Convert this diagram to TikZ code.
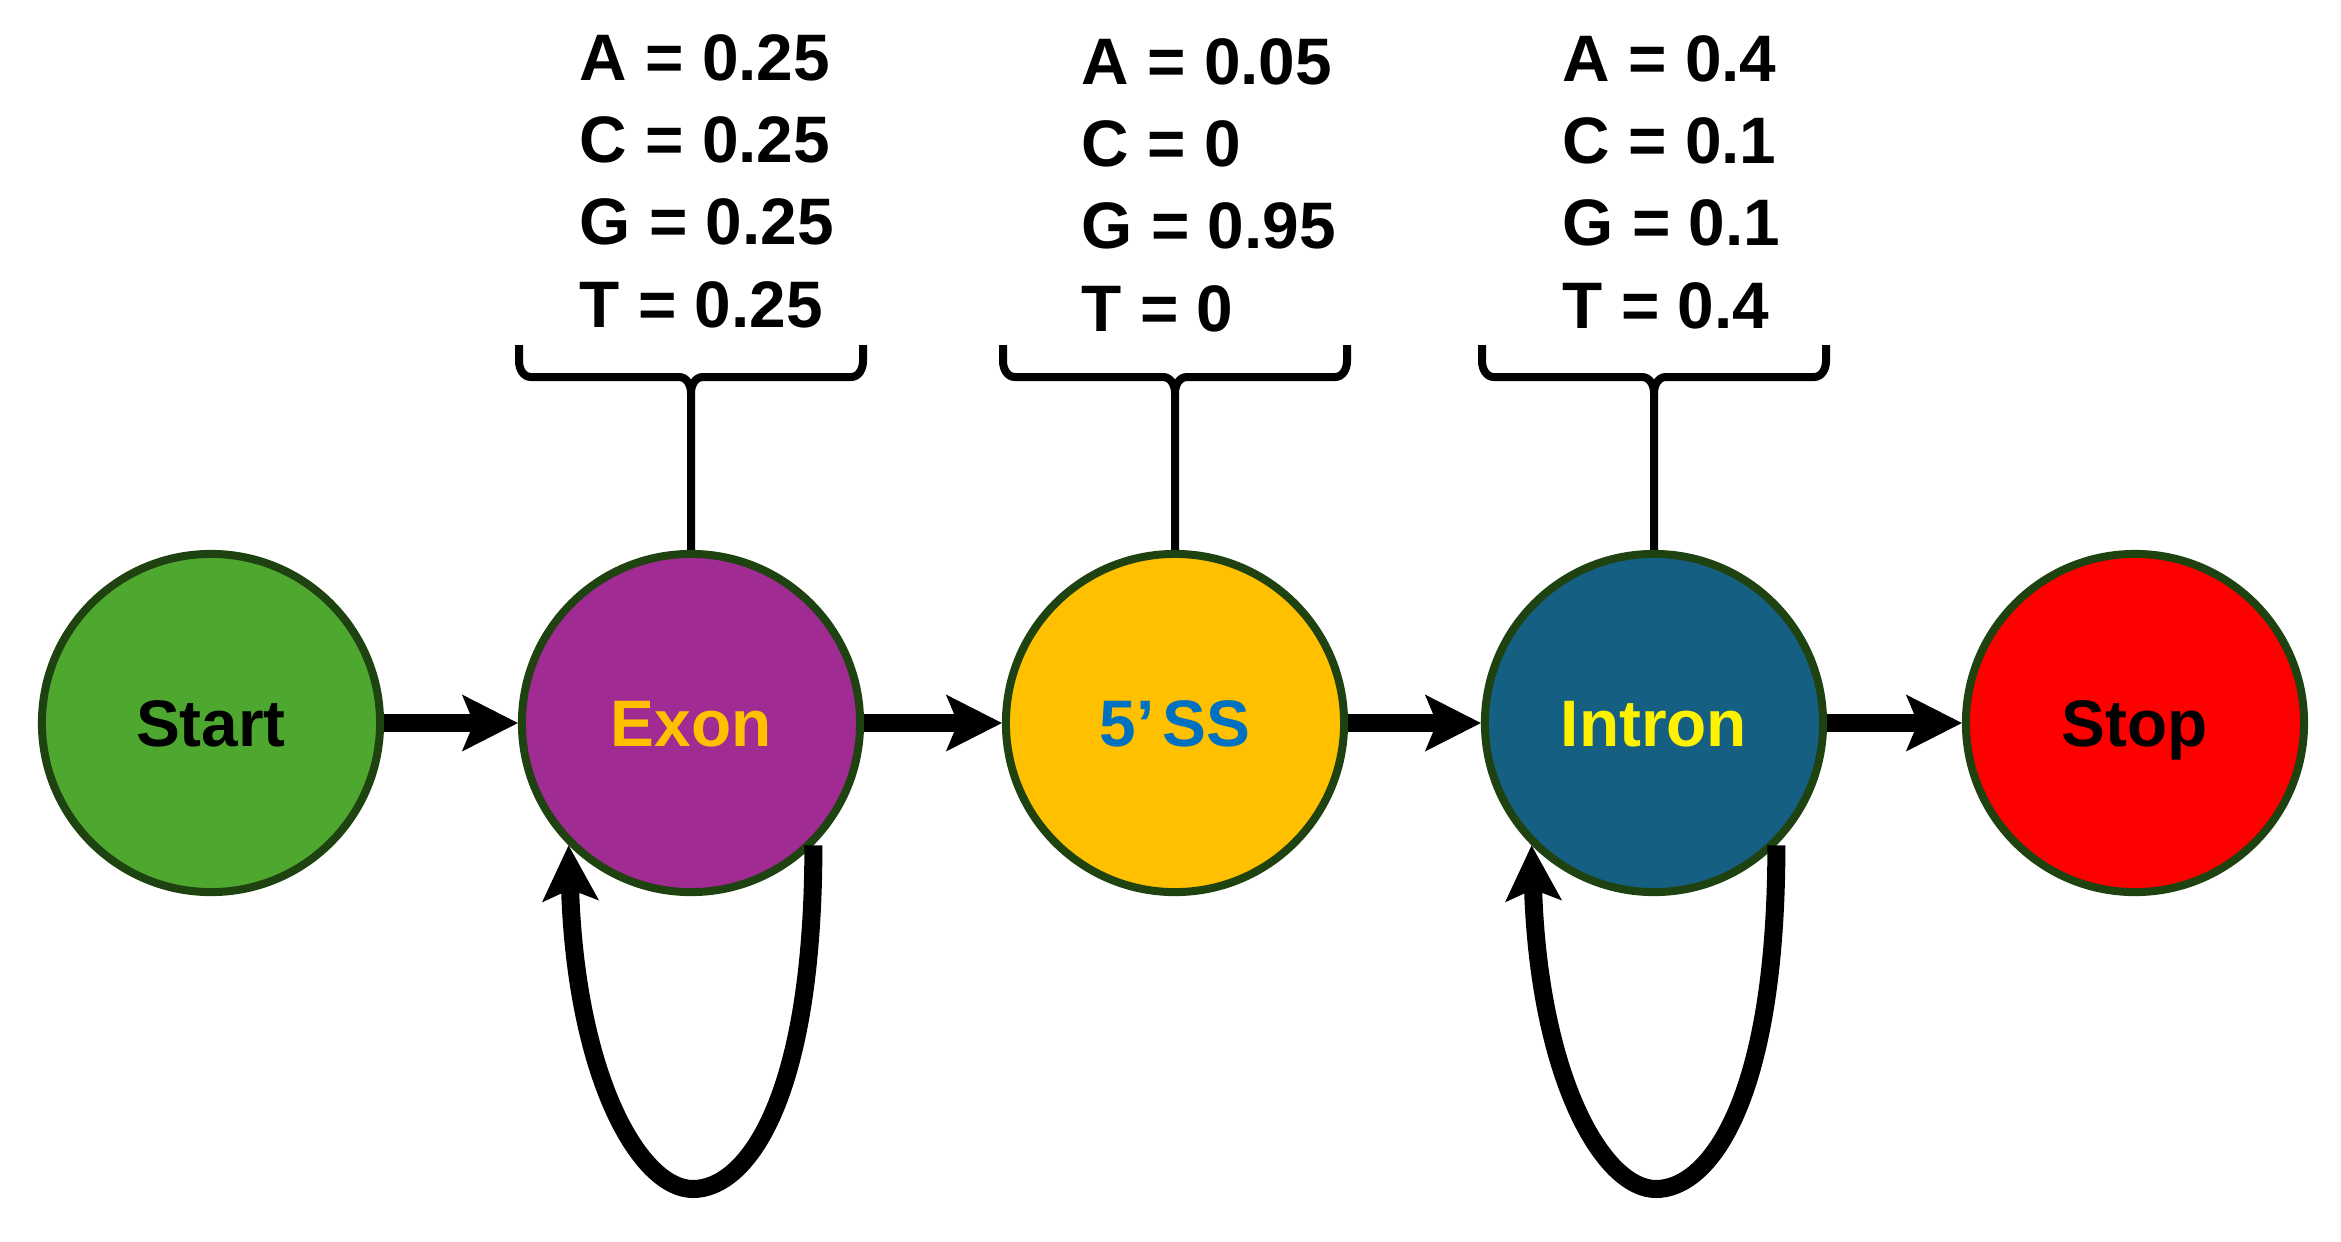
\documentclass[tikz,border=0pt]{standalone}
\usepackage{fontspec}
\setmainfont{Liberation Sans}
\usetikzlibrary{arrows.meta,calc}
\definecolor{outl}{RGB}{30,66,16}
\definecolor{cstart}{RGB}{78,167,46}
\definecolor{cexon}{RGB}{160,43,147}
\definecolor{cgold}{RGB}{255,192,0}
\definecolor{cintron}{RGB}{21,96,130}
\definecolor{cstop}{RGB}{255,0,0}
\definecolor{cblue}{RGB}{0,112,192}
\newcommand\mylabfont{\fontsize{18.7}{23.4}\selectfont\bfseries}
\begin{document}
\begin{tikzpicture}[x=0.01cm,y=-0.01cm,
  state/.style={circle,draw=outl,line width=0.08cm,minimum size=3.38cm,inner sep=0pt,
    font=\mylabfont,text height=0.47cm,text depth=0pt},
  prob/.style={align=left,inner sep=0pt,font=\mylabfont,anchor=base west},
  arr/.style={line width=0.18cm,-{Stealth[length=0.56cm,width=0.57cm,inset=0.12cm,line width=0pt]}},
  brk/.style={line width=0.08cm}]
\useasboundingbox (0,0) rectangle (2341,1241);

\node[state,fill=cstart] (start) at (211,723) {Start};
\node[state,fill=cexon,text=cgold] (exon) at (691,723) {Exon};
\node[state,fill=cgold,text=cblue] (ss) at (1175,723) {5’\kern0.12em SS};
\node[state,fill=cintron,text=yellow] (intron) at (1654,723) {Intron};
\node[state,fill=cstop] (stop) at (2135,723) {Stop};

\draw[arr] (start) -- (exon);
\draw[arr] (exon) -- (ss);
\draw[arr] (ss) -- (intron);
\draw[arr] (intron) -- (stop);

\foreach \n in {exon,intron}{
  \coordinate (\n-bot) at ($(\n)+(2,466)$);
  \draw[arr] (\n.-45) .. controls +(0,258) and +(52,0) .. (\n-bot)
     .. controls +(-52,0) and +(8,235) .. (\n.-135);
}

\foreach \n in {exon,ss,intron}{
  \draw[brk] ($(\n)+(-172,-378)$) -- ++(0,16) to[out=-90,in=180] ++(12,16)
     -- ($(\n)+(-12,-346)$) to[out=0,in=90] ($(\n)+(0,-330)$) -- (\n.north);
  \draw[brk] ($(\n)+(172,-378)$) -- ++(0,16) to[out=-90,in=0] ++(-12,16)
     -- ($(\n)+(12,-346)$) to[out=180,in=90] ($(\n)+(0,-330)$);
}

\node[prob] (pexon) at (579,327) {A = 0.25\\C = 0.25\\G = 0.25\\T = 0.25};
\node[prob] (pss) at (1081,331) {A = 0.05\\C = 0\\G = 0.95\\T = 0};
\node[prob] (pintron) at (1562,328) {A = 0.4\\C = 0.1\\G = 0.1\\T = 0.4};
\end{tikzpicture}
\end{document}
